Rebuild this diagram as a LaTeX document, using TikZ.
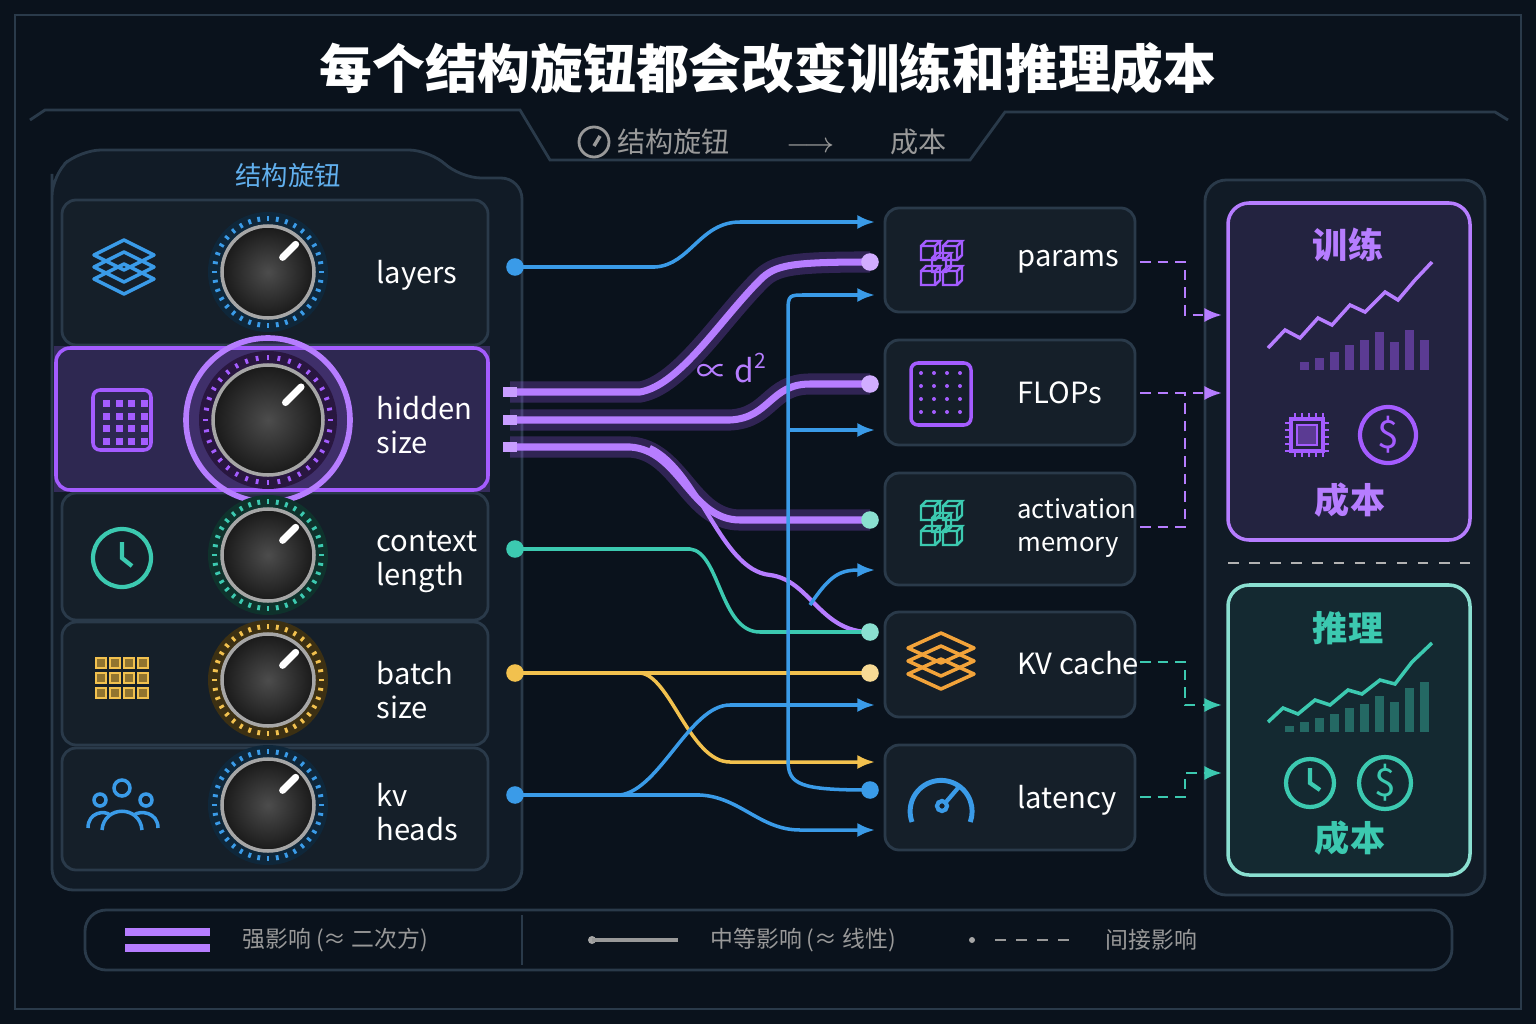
\documentclass[tikz,border=0pt]{standalone}
\usepackage{fontspec}
\setmainfont{Noto Sans CJK SC}
\usetikzlibrary{calc,arrows.meta}
\definecolor{bgc}{HTML}{0A121C}
\definecolor{panelc}{HTML}{111B26}
\definecolor{edgec}{HTML}{2A3A4A}
\definecolor{pur}{HTML}{A45CFF}
\definecolor{blu}{HTML}{3A9BE8}
\definecolor{tea}{HTML}{3CC9B0}
\definecolor{yel}{HTML}{F2C14E}
\definecolor{ora}{HTML}{F2A33A}
\tikzset{
  panel/.style={draw=edgec, fill=panelc, rounded corners=6pt, line width=0.8pt},
  box/.style={draw=edgec, fill=panelc!80!white!8!panelc, rounded corners=4pt, line width=0.8pt},
  lbl/.style={text=white, font=\fontsize{8.3}{9.6}\selectfont, align=left, anchor=west},
  link/.style={line width=1pt, rounded corners=0pt},
  strong/.style={pur!80!white, line width=2pt},
  glow/.style={pur, line width=6pt, opacity=.25},
  tip/.style={-{Latex[length=5pt,width=4pt]}},
  dashlink/.style={densely dashed, line width=0.8pt},
  dot/.style={circle, fill=#1, inner sep=0pt, minimum size=5pt}
}
% knob: centre, radius, colour
\newcommand{\knob}[3]{%
  \fill[#3!25!black] (#1) circle (#2+14);
  \foreach \a in {0,10,...,350}
    \draw[#3, line width=0.8pt] ($(#1)+(\a:#2+5)$) -- ($(#1)+(\a:#2+10)$);
  \shade[inner color=gray!60!black, outer color=black!90] (#1) circle (#2);
  \draw[gray!70, line width=1pt] (#1) circle (#2);
  \draw[white, line width=2pt, line cap=round] ($(#1)+(-45:#2*0.45)$) -- ($(#1)+(-45:#2*0.85)$);}
\newcommand{\cube}[2]{% simple cube icon
  \draw[#2, line width=0.7pt] ($(#1)+(-9,-4)$) rectangle ($(#1)+(5,10)$)
    ($(#1)+(-9,-4)$) -- ($(#1)+(-4,-9)$) -- ($(#1)+(10,-9)$) -- ($(#1)+(5,-4)$)
    ($(#1)+(10,-9)$) -- ($(#1)+(10,5)$) -- ($(#1)+(5,10)$);}
\begin{document}
\begin{tikzpicture}[x=0.01cm, y=-0.01cm]
\useasboundingbox (0,0) rectangle (1536,1024);
\fill[bgc] (0,0) rectangle (1536,1024);
\draw[edgec] (15,15) rectangle (1521,1009);
% title
\node (title) at (768,68) {\fontsize{15}{18}\selectfont\bfseries\color{white}每个结构旋钮都会改变训练和推理成本};
\draw[edgec, line width=0.8pt] (30,120) -- (45,110) -- (520,110) -- (550,160) -- (970,160) -- (1005,112) -- (1495,112) -- (1508,120);
\node (sub) at (782,142) {\fontsize{8}{9}\selectfont\color{gray!80}结构旋钮\qquad\(\longrightarrow\)\qquad 成本};
\draw[gray!80, line width=0.8pt] (594,142) circle (15);
\draw[gray!80, line width=1pt] (594,146) -- (600,136);
% left panel
\draw[panel] (52,195) -- (52,175) -- (80,150) -- (430,150) -- (460,178) -- (522,178) -- (522,890) -- (52,890) -- cycle;
\node (tab) at (288,175) {\fontsize{7.5}{8}\selectfont\color{blu!80!white}结构旋钮};
\foreach \t/\b in {200/345, 493/620, 622/745, 748/870}
  \draw[box] (62,\t) rectangle (488,\b);
\fill[pur, opacity=.25] (54,346) rectangle (490,492);
\draw[pur, line width=1pt, rounded corners=4pt, fill=pur!20!panelc] (56,348) rectangle (488,490);
% knobs
\knob{268,272}{46}{blu}
\fill[pur, opacity=.15] (268,420) circle (84);
\draw[pur!80!white, line width=1.6pt] (268,420) circle (82);
\knob{268,420}{55}{pur}
\knob{268,555}{46}{tea}
\knob{268,680}{46}{yel}
\knob{268,805}{46}{blu}
% knob labels
\node[lbl] (layers) at (364,275) {layers};
\node[lbl] (hidden) at (364,425) {hidden\\size};
\node[lbl] (context) at (364,562) {context\\length};
\node[lbl] (batch) at (364,690) {batch\\size};
\node[lbl] (kvheads) at (364,812) {kv\\heads};
% left icons
\foreach \d in {0,12,24}
  \draw[blu, line width=1pt, line join=round] (94,\d+255) -- (124,\d+240) -- (154,\d+255) -- (124,\d+270) -- cycle;
\draw[pur, line width=1pt, rounded corners=2pt] (93,390) rectangle (151,450);
\foreach \i in {0,...,3} \foreach \j in {0,...,3}
  \fill[pur] (103+\i*12.5,400+\j*12.5) rectangle ++(7,7);
\draw[tea, line width=1.2pt] (122,558) circle (29);
\draw[tea, line width=1.2pt] (122,542) -- (122,558) -- (132,566);
\foreach \i in {0,...,3} \foreach \j in {0,...,2}
  \draw[yel, fill=yel!60!black] (96+\i*14,658+\j*15) rectangle ++(10,10);
\draw[blu, line width=1pt] (122,788) circle (8) (100,800) circle (6) (146,800) circle (6);
\draw[blu, line width=1pt] (102,830) .. controls (104,805) and (140,805) .. (142,830);
\draw[blu, line width=1pt] (88,828) .. controls (88,812) and (105,810) .. (110,815);
\draw[blu, line width=1pt] (158,828) .. controls (158,812) and (140,810) .. (134,815);
% right boxes
\foreach \t/\b in {208/312, 340/445, 473/585, 612/717, 745/850}
  \draw[box] (885,\t) rectangle (1135,\b);
\node[lbl] (params) at (1005,262) {params};
\node[lbl] (flops) at (1005,393) {FLOPs};
\node[lbl, font=\fontsize{7.3}{9.6}\selectfont] (actmem) at (1005,528) {activation\\memory};
\node[lbl] (kvcache) at (1005,663) {KV cache};
\node[lbl] (latency) at (1005,800) {latency};
% right icons
\foreach \p in {{930,250},{952,250},{930,275},{952,275},{941,262}} \cube{\p}{pur};
\draw[pur, line width=1pt, rounded corners=2pt] (911,363) rectangle (971,425);
\foreach \i in {0,...,3} \foreach \j in {0,...,3}
  \fill[pur] (921+\i*13,373+\j*13) circle (2);
\foreach \p in {{930,510},{952,510},{930,535},{952,535},{941,522}} \cube{\p}{tea};
\foreach \d in {0,13,26}
  \draw[ora, line width=1pt, line join=round] (908,\d+648) -- (941,\d+633) -- (974,\d+648) -- (941,\d+663) -- cycle;
\draw[blu, line width=1.4pt] (912,822) arc (160:380:31);
\draw[blu, line width=1.2pt] (942,806) circle (5);
\draw[blu, line width=1.2pt] (946,802) -- (958,788);
% anchor points
\coordinate (sL) at (515,267);
\coordinate (sH1) at (510,392);
\coordinate (sH2) at (510,420);
\coordinate (sH3) at (510,447);
\coordinate (sC) at (515,549);
\coordinate (sB) at (515,673);
\coordinate (sK) at (515,795);
\coordinate (eP) at (870,262);
\coordinate (eF) at (870,384);
\coordinate (eA) at (870,520);
\coordinate (eKV) at (870,632);
\coordinate (eKVy) at (870,673);
\coordinate (eLat) at (870,790);
% strong links
\foreach \pth in {1,2}{
\ifnum\pth=1 \tikzset{cur/.style=glow}\else \tikzset{cur/.style=strong}\fi
\draw[cur] (sH1) -- (640,392) .. controls (680,385) and (720,320) .. (760,280) .. controls (775,265) and (790,262) .. (eP);
\draw[cur] (sH2) -- (730,420) .. controls (770,418) and (770,384) .. (810,384) -- (eF);
\draw[cur] (sH3) -- (630,447) .. controls (680,450) and (690,520) .. (740,520) -- (eA);
}
\draw[pur!80!white, line width=1.2pt] (650,447) .. controls (700,470) and (720,570) .. (770,575) .. controls (810,580) and (820,632) .. (eKV);
\foreach \y in {392,420,447} \fill[pur!60!white] (503,\y-5) rectangle (517,\y+5);
\node[text=pur!80!white, font=\fontsize{9}{10}\selectfont\itshape] (prop) at (732,368) {∝ d\textsuperscript{2}};
% medium links
\draw[link, blu, tip] (sL) -- (655,267) .. controls (690,265) and (700,222) .. (740,222) -- (875,222);
\draw[link, tea] (sC) -- (690,549) .. controls (720,552) and (720,632) .. (760,632) -- (eKV);
\draw[link, yel] (sB) -- (eKVy);
\draw[link, yel, tip] (640,673) .. controls (670,675) and (690,762) .. (730,762) -- (875,762);
\draw[link, blu, tip] (sK) -- (620,795) .. controls (660,790) and (690,705) .. (730,705) -- (875,705);
\draw[link, blu, tip] (700,795) .. controls (740,797) and (760,830) .. (800,830) -- (875,830);
\draw[link, blu] (sK) -- (700,795);
\draw[link, blu, tip] (788,760) -- (788,310) .. controls (788,295) and (790,295) .. (805,295) -- (875,295);
\draw[link, blu, tip] (788,430) -- (875,430);
\draw[link, blu, tip] (810,605) .. controls (830,575) and (840,570) .. (875,570);
\draw[link, blu] (788,760) .. controls (788,785) and (800,790) .. (eLat);
\node[dot=blu] at (sL) {}; \node[dot=tea] at (sC) {}; \node[dot=yel] at (sB) {}; \node[dot=blu] at (sK) {};
\node[dot=pur!50!white] at (eP) {}; \node[dot=pur!50!white] at (eF) {};
\node[dot=tea!60!white] at (eA) {}; \node[dot=tea!60!white] at (eKV) {};
\node[dot=yel!60!white] at (eKVy) {}; \node[dot=blu] at (eLat) {};
% right panels
\draw[panel] (1205,180) rectangle (1485,895);
\draw[pur!80, line width=1pt, rounded corners=6pt, fill=pur!12!panelc] (1228,203) rectangle (1470,540);
\draw[tea!60, line width=1pt, rounded corners=6pt, fill=tea!8!panelc] (1228,585) rectangle (1470,875);
\draw[gray!60, dashed] (1228,563) -- (1470,563);
\node[font=\fontsize{10}{11}\selectfont\bfseries, text=pur!80!white] (train) at (1348,245) {训练};
\node[font=\fontsize{10}{11}\selectfont\bfseries, text=pur!80!white] (tcost) at (1350,500) {成本};
\node[font=\fontsize{10}{11}\selectfont\bfseries, text=tea] (infer) at (1348,628) {推理};
\node[font=\fontsize{10}{11}\selectfont\bfseries, text=tea] (icost) at (1350,838) {成本};
\foreach \x/\h in {1300/8,1315/12,1330/18,1345/25,1360/30,1375/38,1390/28,1405/40,1420/30}
  \fill[pur!50!panelc] (\x,370) rectangle ++(9,-\h);
\draw[pur!80!white, line width=1pt] (1268,348) -- (1285,330) -- (1300,338) -- (1318,318) -- (1332,325) -- (1350,305) -- (1365,312) -- (1385,292) -- (1398,300) -- (1415,280) -- (1432,262);
\foreach \x/\h in {1285/6,1300/10,1315/14,1330/18,1345/24,1360/28,1375/36,1390/30,1405/44,1420/50}
  \fill[tea!45!panelc] (\x,732) rectangle ++(9,-\h);
\draw[tea, line width=1pt] (1268,722) -- (1283,708) -- (1298,714) -- (1315,700) -- (1330,705) -- (1348,690) -- (1362,694) -- (1380,680) -- (1395,684) -- (1412,662) -- (1432,643);
\draw[pur, line width=1pt] (1291,419) rectangle (1323,451);
\fill[pur!50!panelc, draw=pur] (1297,425) rectangle (1317,445);
\foreach \k in {0,...,4}{
  \draw[pur] (1295+\k*7,419) -- ++(0,-6) (1295+\k*7,451) -- ++(0,6);
  \draw[pur] (1291,423+\k*7) -- ++(-6,0) (1323,423+\k*7) -- ++(6,0);}
\draw[pur, line width=1.2pt] (1388,435) circle (28);
\node[text=pur, font=\fontsize{11}{12}\selectfont] (usd1) at (1388,435) {\$};
\draw[tea, line width=1.2pt] (1310,783) circle (24);
\draw[tea, line width=1.2pt] (1310,768) -- (1310,783) -- (1320,790);
\draw[tea, line width=1.2pt] (1385,783) circle (26);
\node[text=tea, font=\fontsize{11}{12}\selectfont] (usd2) at (1385,783) {\$};
% indirect links
\draw[dashlink, pur!80, tip] (1140,262) -- (1185,262) -- (1185,315) -- (1222,315);
\draw[dashlink, pur!80, tip] (1140,393) -- (1222,393);
\draw[dashlink, pur!80] (1140,527) -- (1185,527) -- (1185,393);
\draw[dashlink, tea, tip] (1140,662) -- (1185,662) -- (1185,705) -- (1222,705);
\draw[dashlink, tea, tip] (1140,797) -- (1185,797) -- (1185,773) -- (1222,773);
% legend
\draw[panel, fill=bgc] (85,910) rectangle (1452,970);
\draw[pur!80!white, line width=2pt] (125,932) -- (210,932) (125,948) -- (210,948);
\node[anchor=west, text=gray!80, font=\fontsize{6.5}{7}\selectfont] (legS) at (230,940) {强影响 (≈ 二次方)};
\draw[edgec] (522,915) -- (522,965);
\fill[gray!70] (592,940) circle (4);
\draw[gray!80, line width=1pt] (592,940) -- (678,940);
\node[anchor=west, text=gray!80, font=\fontsize{6.5}{7}\selectfont] (legM) at (698,940) {中等影响 (≈ 线性)};
\fill[gray!70] (972,940) circle (3);
\draw[gray!80, dashed, line width=0.8pt] (995,940) -- (1075,940);
\node[anchor=west, text=gray!80, font=\fontsize{6.5}{7}\selectfont] (legI) at (1093,940) {间接影响};
\end{tikzpicture}
\end{document}
